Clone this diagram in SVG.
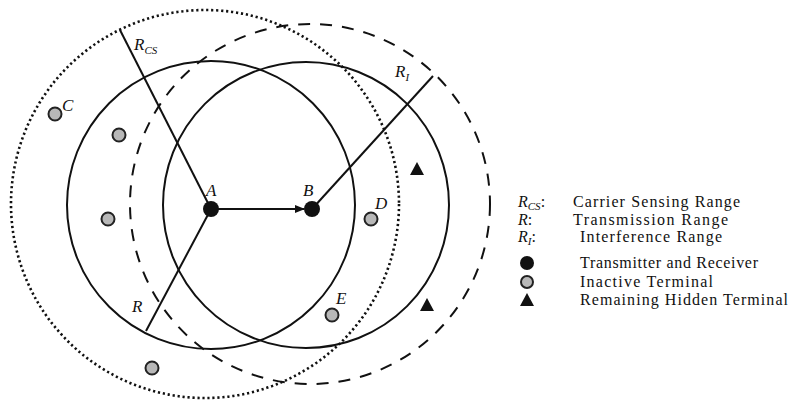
<svg xmlns="http://www.w3.org/2000/svg" width="792" height="403" viewBox="0 0 792 403">
<style>
.rng{fill:none;stroke:#111;}
.solid{stroke-width:2;}
.dot{stroke-width:2.6;stroke-dasharray:2.2 2.8;}
.dash{stroke-width:2;stroke-dasharray:12 10;}
.ln{stroke:#111;stroke-width:2;fill:none;}
.blk{fill:#111;}
.gry{fill:#b8b8b8;stroke:#222;stroke-width:2;}
.lbl{font-family:"Liberation Serif",serif;font-style:italic;font-size:17px;fill:#111;}
.sub{font-size:11px;}
.leg{font-family:"Liberation Serif",serif;font-size:16px;fill:#111;}
.legi{font-family:"Liberation Serif",serif;font-style:italic;font-size:16px;fill:#111;}
</style>
<defs>
<marker id="ah" markerWidth="10" markerHeight="8" refX="9" refY="4" orient="auto" markerUnits="userSpaceOnUse">
<path d="M0,0 L10,4 L0,8 Z" fill="#111"/>
</marker>
</defs>
<rect width="792" height="403" fill="#fff"/>
<g id="ranges">
<circle class="rng dot" cx="205" cy="204" r="194"/>
<circle class="rng dash" cx="310" cy="204" r="180"/>
<circle class="rng solid" cx="211" cy="205" r="144"/>
<circle class="rng solid" cx="306" cy="205" r="143"/>
</g>
<g id="connectors">
<line class="ln" x1="211" y1="209" x2="120" y2="30"/>
<line class="ln" x1="211" y1="209" x2="146" y2="331"/>
<line class="ln" x1="312" y1="209" x2="433" y2="76"/>
<line class="ln" x1="218" y1="209" x2="304" y2="209" marker-end="url(#ah)"/>
</g>
<g id="range-labels">
<text class="lbl" x="134" y="50">R<tspan class="sub" dy="4">CS</tspan></text>
<text class="lbl" x="395" y="77">R<tspan class="sub" dy="4">I</tspan></text>
<text class="lbl" x="132" y="312">R</text>
</g>
<g id="node-A"><circle class="blk" cx="211" cy="209" r="8"/><text class="lbl" x="206" y="196">A</text></g>
<g id="node-B"><circle class="blk" cx="312" cy="209" r="8"/><text class="lbl" x="303" y="196">B</text></g>
<g id="node-C"><circle class="gry" cx="55" cy="114" r="6.5"/><text class="lbl" x="62" y="111">C</text></g>
<g id="node-i1"><circle class="gry" cx="119" cy="135" r="6.5"/></g>
<g id="node-i2"><circle class="gry" cx="108" cy="219" r="6.5"/></g>
<g id="node-i3"><circle class="gry" cx="152" cy="368" r="6.5"/></g>
<g id="node-D"><circle class="gry" cx="371" cy="219" r="6.5"/><text class="lbl" x="375" y="209">D</text></g>
<g id="node-E"><circle class="gry" cx="332" cy="315" r="6.5"/><text class="lbl" x="336" y="304">E</text></g>
<g id="node-h1"><path class="blk" d="M417,162 L424,175 L410,175 Z"/></g>
<g id="node-h2"><path class="blk" d="M427,298 L434,311 L420,311 Z"/></g>
<g id="legend">
<text class="legi" x="518" y="207">R<tspan class="sub" dy="3">CS</tspan><tspan dy="-3" style="font-style:normal">:</tspan></text>
<text class="leg" x="573" y="207" textLength="167" lengthAdjust="spacing">Carrier Sensing Range</text>
<text class="legi" x="518" y="225">R<tspan style="font-style:normal">:</tspan></text>
<text class="leg" x="573" y="225" textLength="155" lengthAdjust="spacing">Transmission Range</text>
<text class="legi" x="518" y="242">R<tspan class="sub" dy="3">I</tspan><tspan dy="-3" style="font-style:normal">:</tspan></text>
<text class="leg" x="580" y="242" textLength="142" lengthAdjust="spacing">Interference Range</text>
<circle class="blk" cx="527" cy="263" r="7"/>
<text class="leg" x="580" y="268" textLength="178" lengthAdjust="spacing">Transmitter and Receiver</text>
<circle class="gry" cx="527" cy="282" r="6"/>
<text class="leg" x="580" y="287" textLength="133" lengthAdjust="spacing">Inactive Terminal</text>
<path class="blk" d="M527,293 L534,306 L520,306 Z"/>
<text class="leg" x="580" y="305" textLength="208" lengthAdjust="spacing">Remaining Hidden Terminal</text>
</g>
</svg>
